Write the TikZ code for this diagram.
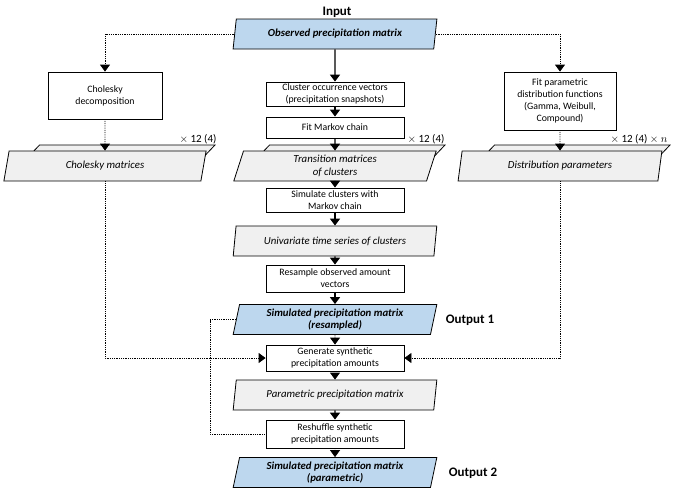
\documentclass[tikz,border=0pt]{standalone}
\usepackage{fontspec}
\setmainfont{Carlito}
\usetikzlibrary{shapes.geometric,arrows.meta}
\definecolor{inblue}{HTML}{BDD7EE}
\definecolor{lgray}{HTML}{F0F0F0}
\begin{document}
\begin{tikzpicture}[x=1pt,y=-1pt,
  box/.style={draw,line width=.8,fill=white,align=center,inner sep=1,minimum width=138,font=\fontsize{9.8}{12}\selectfont},
  para/.style={draw,line width=.8,fill=lgray,trapezium,trapezium left angle=79,trapezium right angle=101,trapezium stretches=true,minimum width=204,minimum height=30,inner sep=1,align=center,font=\fontsize{10.8}{12.5}\selectfont\itshape},
  keypara/.style={para,fill=inblue,font=\fontsize{10.8}{12.5}\selectfont\bfseries\itshape},
  head/.style={font=\fontsize{13}{15}\selectfont\bfseries},
  reps/.style={font=\fontsize{11}{13}\selectfont},
  arr/.style={-{Triangle[length=7,width=10]},line width=1.4},
  dotarr/.style={-{Triangle[length=7,width=10]},densely dotted,line width=.8},
  dotline/.style={densely dotted,line width=.8}]

\useasboundingbox (0,0) rectangle (675,491);

%Input and the three branches
\node[head] (input) at (337,12) {Input};
\node[keypara] (obs) at (335,34) {Observed precipitation matrix};
\node[box,minimum width=114,minimum height=47] (chol) at (105,95.5) {Cholesky\\decomposition};
\node[box,minimum width=112,minimum height=58] (fitdist) at (560,101) {Fit parametric\\distribution functions\\(Gamma, Weibull,\\Compound)};
\node[box,minimum height=24] (clusvec) at (335,94) {Cluster occurrence vectors\\(precipitation snapshots)};
\node[box,minimum height=21] (fitmc) at (335,127.5) {Fit Markov chain};

%Stacked matrices - back copy first
\foreach \n/\x in {cholmatb/113,transb/343,distparb/568} \node[para] (\n) at (\x,160) {};
\node[para] (cholmat) at (105,166) {Cholesky matrices};
\node[para] (trans) at (335,166) {Transition matrices\\of clusters};
\node[para] (distpar) at (560,166) {Distribution parameters};
\node[reps] (repl) at (198,139) {$\times$ 12 (4)};
\node[reps] (repc) at (426,139) {$\times$ 12 (4)};
\node[reps] (repr) at (639,139) {$\times$ 12 (4) $\times$ $n$};

%Centre column
\node[box,minimum height=24] (simclus) at (335,200) {Simulate clusters with\\Markov chain};
\node[para] (univ) at (335,241) {Univariate time series of clusters};
\node[box,minimum height=27] (resamp) at (335,278.5) {Resample observed amount\\vectors};
\node[keypara] (simres) at (335,319.5) {Simulated precipitation matrix\\(resampled)};
\node[box,minimum height=26] (gen) at (335,358) {Generate synthetic\\precipitation amounts};
\node[para] (parm) at (335,395) {Parametric precipitation matrix};
\node[box,minimum height=28] (resh) at (335,434) {Reshuffle synthetic\\precipitation amounts};
\node[keypara] (simpar) at (335,472.5) {Simulated precipitation matrix\\(parametric)};
\node[head] (out1) at (470,320) {Output 1};
\node[head] (out2) at (473,473) {Output 2};

%Connectors
\foreach \a/\b in {obs/clusvec,clusvec/fitmc,fitmc/trans,trans/simclus,simclus/univ,univ/resamp,resamp/simres,parm/resh} \draw[arr] (\a) -- (\b);
\foreach \a/\b in {simres/gen,gen/parm,resh/simpar} \draw[dotarr] (\a) -- (\b);
\draw[dotarr] (chol.south) -- (cholmat.north);
\draw[dotarr] (fitdist.south) -- (distpar.north);
\draw[dotarr] (obs.west) -| (chol.north);
\draw[dotarr] (obs.east) -| (fitdist.north);
\draw[dotarr] (cholmat.south) |- (gen.west);
\draw[dotarr] (distpar.south) |- (gen.east);
\coordinate (loop) at (210,0);
\draw[dotline] (simres.west) -- (simres.west -| loop) -- (resh.west -| loop) -- (resh.west);

\end{tikzpicture}
\end{document}
